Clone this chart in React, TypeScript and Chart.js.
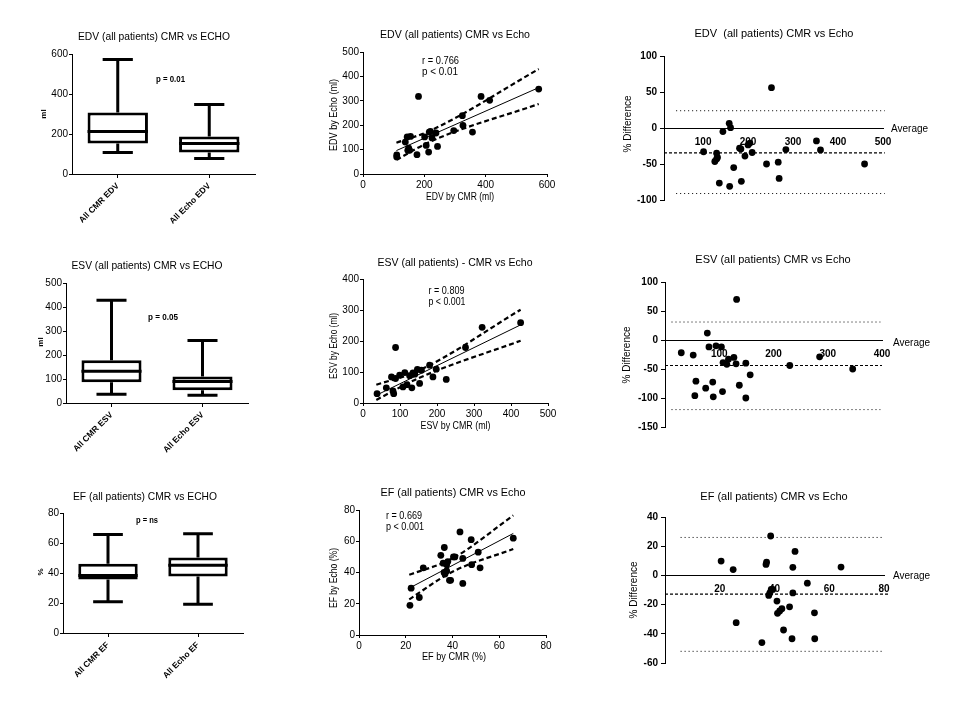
import React, { useEffect, useRef } from 'react';
import { Chart, registerables } from 'chart.js';

Chart.register(...registerables);

const FONT = '"Liberation Sans", Arial, Helvetica, sans-serif';
Chart.defaults.font.family = FONT;

// ---------------- Box plots ----------------
const edvBoxLabels = ['All CMR EDV', 'All Echo EDV'];
const edvMin = [107, 78];
const edvQ1 = [152, 107];
const edvMedian = [213, 153];
const edvQ3 = [308, 188];
const edvMax = [573, 348];
const edvBoxTicks = [0, 200, 400, 600];

const esvBoxLabels = ['All CMR ESV', 'All Echo ESV'];
const esvMin = [36, 32];
const esvQ1 = [86, 53];
const esvMedian = [132, 90];
const esvQ3 = [178, 110];
const esvMax = [428, 260];
const esvBoxTicks = [0, 100, 200, 300, 400, 500];

const efBoxLabels = ['All CMR EF', 'All Echo EF'];
const efMin = [20.9, 19.1];
const efQ1 = [35.6, 37.6];
const efMedian = [38.4, 45.1];
const efQ3 = [46.2, 50.4];
const efMax = [65.6, 66.2];
const efBoxTicks = [0, 20, 40, 60, 80];

// ---------------- Correlation scatter ----------------
const edvCmr = [110, 110, 138, 144, 155, 146, 152, 149, 176, 181, 201, 206, 214, 216, 220, 225, 238, 243, 296, 324, 326, 357, 385, 413, 573];
const edvEcho = [78, 70, 131, 152, 154, 97, 97, 106, 79, 318, 152, 117, 90, 172, 175, 148, 168, 113, 178, 239, 199, 172, 318, 302, 348];
const edvRegX = [109, 573];
const edvRegY = [96, 354];
const edvUpperX = [109, 220, 573];
const edvUpperY = [128, 178, 430];
const edvLowerX = [109, 220, 573];
const edvLowerY = [58, 133, 287];
const edvScatterXTicks = [0, 200, 400, 600];
const edvScatterYTicks = [0, 100, 200, 300, 400, 500];

const esvCmr = [38, 63, 77, 81, 83, 88, 88, 99, 108, 113, 119, 126, 132, 135, 140, 147, 153, 158, 180, 189, 198, 225, 277, 322, 426];
const esvEcho = [30, 49, 84, 39, 30, 79, 179, 90, 52, 98, 59, 88, 49, 97, 93, 108, 63, 106, 122, 84, 109, 76, 179, 244, 259];
const esvRegX = [36, 426];
const esvRegY = [25, 252];
const esvUpperX = [36, 150, 426];
const esvUpperY = [59, 104, 301];
const esvLowerX = [36, 150, 426];
const esvLowerY = [10, 80, 201];
const esvScatterXTicks = [0, 100, 200, 300, 400, 500];
const esvScatterYTicks = [0, 100, 200, 300, 400];

const efCmr = [21.8, 22.3, 25.8, 27.5, 35, 36, 36.5, 36.4, 36.8, 37.5, 38, 38.7, 39.2, 37.5, 40.4, 41, 43.2, 44.4, 44.4, 48, 48.2, 51, 51.8, 66];
const efEcho = [19, 30, 24, 43, 51, 46, 56, 40, 39, 41, 47, 35, 35, 45, 50, 50, 66, 49, 33, 61, 45, 53, 43, 62];
const efRegX = [21.5, 66];
const efRegY = [30, 65];
const efUpperX = [21.5, 40, 66];
const efUpperY = [38.5, 49, 76.5];
const efLowerX = [21.5, 40, 66];
const efLowerY = [22.8, 40.5, 55];
const efScatterTicks = [0, 20, 40, 60, 80];

// ---------------- Bland-Altman ----------------
const edvAvg = [101, 130, 130, 132, 126, 136, 144, 158, 161, 159, 168, 181, 184, 185, 193, 200, 204, 209, 241, 252, 267, 269, 284, 352, 361, 459];
const edvDiff = [-33, -35, -43, -41, -46.5, -76.5, -5, 6.5, 0.5, -81, -55, -28, -29, -74, -39, -23.5, -21, -34, -50, 56, -47.5, -70, -30, -18, -30.5, -50];
const edvLoa = [24, -91];
const edvLoaX = [40, 504];
const edvBias = -34.6;
const edvBiasX = [13, 504];
const edvBaXTicks = [100, 200, 300, 400, 500];
const edvBaYTicks = [-100, -50, 0, 50, 100];

const esvAvg = [30, 52, 57, 55, 75, 78, 81, 88, 89, 94, 104, 106, 107, 114, 117, 127, 131, 132, 137, 149, 149, 157, 230, 285, 346];
const esvDiff = [-22, -26, -71, -96, -83, 12, -12, -72.5, -98, -10, -12, -89, -39, -42, -33, -30, -41, 70, -78, -40, -100, -60, -44, -29, -50];
const esvLoa = [31, -120];
const esvLoaX = [12, 397];
const esvBias = -44;
const esvBiasX = [0, 400];
const esvBaXTicks = [100, 200, 300, 400];
const esvBaYTicks = [-150, -100, -50, 0, 50, 100];

const efAvg = [20.5, 24.9, 26, 35.4, 36.9, 37.1, 37.9, 38.3, 38.6, 38.8, 39.4, 40.9, 41.1, 41.9, 42.7, 43.3, 45.5, 46.4, 46.7, 46.7, 47.5, 52, 54.6, 54.7, 64.3];
const efDiff = [9.8, 4, -32.4, -46, 7.5, 9, -13.7, -12, 27, -9.6, -9.6, -17.6, -26, -24.4, -22.8, -37.4, -21.5, -43.4, 5.5, -12, 16.4, -5.3, -25.6, -43.4, 5.7];
const efLoa = [26, -52];
const efLoaX = [5.7, 80];
const efBias = -12.8;
const efBiasX = [0, 81.5];
const efBaXTicks = [20, 40, 60, 80];
const efBaYTicks = [-60, -40, -20, 0, 20, 40];

// ---------------- helpers ----------------
const Y_W = 50; // fixed width reserved for every left axis
const X_H = 55; // fixed height reserved for every bottom axis

type Area = { l: number; t: number; r: number; b: number };
type TextItem = { text: string; x: number; y: number; size: number; bold?: boolean; align?: CanvasTextAlign; rotate?: boolean; width?: number };

function textPlugin(items: TextItem[]) {
  return {
    id: 'pageText',
    afterDraw(chart: any) {
      const ctx = chart.ctx as CanvasRenderingContext2D;
      for (const t of items) {
        ctx.save();
        ctx.fillStyle = '#000';
        ctx.textBaseline = 'middle';
        ctx.font = `${t.bold ? 'bold ' : ''}${t.size}px ${FONT}`;
        ctx.textAlign = t.align || 'center';
        ctx.translate(t.x, t.y);
        if (t.rotate) ctx.rotate(-Math.PI / 2);
        if (t.width) ctx.fillText(t.text, 0, 0, t.width);
        else ctx.fillText(t.text, 0, 0);
        ctx.restore();
      }
    },
  };
}

function boxPlugin(mins: number[], meds: number[], q1s: number[], q3s: number[], maxs: number[]) {
  return {
    id: 'boxWhiskers',
    afterDatasetsDraw(chart: any) {
      const meta = chart.getDatasetMeta(0);
      const ys = chart.scales.y;
      const ctx = chart.ctx as CanvasRenderingContext2D;
      ctx.save();
      ctx.strokeStyle = '#000';
      ctx.lineWidth = 3;
      meta.data.forEach((bar: any, i: number) => {
        const x = bar.x;
        const w = bar.width;
        const cap = w * 0.5;
        const pMin = ys.getPixelForValue(mins[i]);
        const pMax = ys.getPixelForValue(maxs[i]);
        const pQ1 = ys.getPixelForValue(q1s[i]);
        const pQ3 = ys.getPixelForValue(q3s[i]);
        const pMed = ys.getPixelForValue(meds[i]);
        ctx.beginPath();
        ctx.moveTo(x, pQ3);
        ctx.lineTo(x, pMax);
        ctx.moveTo(x - cap / 2, pMax);
        ctx.lineTo(x + cap / 2, pMax);
        ctx.moveTo(x, pQ1);
        ctx.lineTo(x, pMin);
        ctx.moveTo(x - cap / 2, pMin);
        ctx.lineTo(x + cap / 2, pMin);
        ctx.moveTo(x - w / 2, pMed);
        ctx.lineTo(x + w / 2, pMed);
        ctx.stroke();
      });
      ctx.restore();
    },
  };
}

function baseOptions(a: Area, bottomAxis: boolean) {
  return {
    responsive: false,
    maintainAspectRatio: false,
    animation: false as const,
    events: [] as any[],
    layout: {
      autoPadding: false,
      padding: { left: a.l - Y_W, top: a.t, right: 960 - a.r, bottom: 720 - a.b - (bottomAxis ? X_H : 0) },
    },
    plugins: { legend: { display: false }, tooltip: { enabled: false }, title: { display: false } },
  };
}

function numAxis(min: number, max: number, ticks: number[], o: { vertical: boolean; bold?: boolean; tickLength?: number; padding?: number; drawTicks?: boolean; position?: any }) {
  return {
    type: 'linear',
    min,
    max,
    position: o.position ?? (o.vertical ? 'left' : 'bottom'),
    afterBuildTicks: (s: any) => {
      s.ticks = ticks.map((v) => ({ value: v }));
    },
    afterFit: (s: any) => {
      if (o.vertical) s.width = Y_W;
      else s.height = X_H;
    },
    grid: { display: true, drawOnChartArea: false, drawTicks: o.drawTicks ?? true, tickLength: o.tickLength ?? 3, color: '#000', lineWidth: 1 },
    border: { display: true, color: '#000', width: 1 },
    ticks: { color: '#000', autoSkip: false, maxRotation: 0, minRotation: 0, padding: o.padding ?? 1, font: { family: FONT, size: 10, weight: o.bold ? 'bold' : 'normal' } },
  };
}

function pts(xs: number[], ys: number[]) {
  return xs.map((x, i) => ({ x, y: ys[i] }));
}

function boxConfig(a: Area, labels: string[], mins: number[], q1s: number[], meds: number[], q3s: number[], maxs: number[], yTicks: number[], texts: TextItem[]) {
  return {
    type: 'bar',
    data: {
      labels,
      datasets: [
        {
          data: labels.map((_, i) => [q1s[i], q3s[i]]),
          backgroundColor: '#fff',
          borderColor: '#000',
          borderWidth: 3,
          borderSkipped: false,
          categoryPercentage: 1,
          barPercentage: 0.66,
        },
      ],
    },
    options: {
      ...baseOptions(a, true),
      scales: {
        x: {
          type: 'category',
          offset: true,
          afterFit: (s: any) => {
            s.height = X_H;
          },
          grid: { display: true, offset: false, drawOnChartArea: false, drawTicks: true, tickLength: 4, color: '#000', lineWidth: 1 },
          border: { display: true, color: '#000', width: 1 },
          ticks: { color: '#000', autoSkip: false, minRotation: 45, maxRotation: 45, padding: 3, font: { family: FONT, size: 8.5, weight: 'bold' } },
        },
        y: numAxis(yTicks[0], yTicks[yTicks.length - 1], yTicks, { vertical: true, tickLength: 3, padding: 1 }),
      },
    },
    plugins: [boxPlugin(mins, meds, q1s, q3s, maxs), textPlugin(texts)],
  };
}

function lineSet(data: { x: number; y: number }[], width: number, dash: number[]) {
  return {
    data,
    showLine: true,
    borderColor: '#000',
    backgroundColor: '#000',
    borderWidth: width,
    borderDash: dash,
    pointRadius: 0,
    clip: false,
    cubicInterpolationMode: 'monotone',
  };
}

function pointSet(data: { x: number; y: number }[]) {
  return {
    data,
    showLine: false,
    pointRadius: 3.4,
    pointBackgroundColor: '#000',
    pointBorderColor: '#000',
    pointBorderWidth: 0,
    clip: false,
  };
}

function scatterConfig(a: Area, xs: number[], ys: number[], regX: number[], regY: number[], upX: number[], upY: number[], loX: number[], loY: number[], xTicks: number[], yTicks: number[], texts: TextItem[]) {
  return {
    type: 'scatter',
    data: {
      datasets: [
        pointSet(pts(xs, ys)),
        lineSet(pts(regX, regY), 1, []),
        lineSet(pts(upX, upY), 2.2, [5, 3]),
        lineSet(pts(loX, loY), 2.2, [5, 3]),
      ],
    },
    options: {
      ...baseOptions(a, true),
      scales: {
        x: numAxis(xTicks[0], xTicks[xTicks.length - 1], xTicks, { vertical: false, tickLength: 3, padding: 2 }),
        y: numAxis(yTicks[0], yTicks[yTicks.length - 1], yTicks, { vertical: true, tickLength: 3, padding: 1 }),
      },
    },
    plugins: [textPlugin(texts)],
  };
}

function baConfig(a: Area, xs: number[], ys: number[], loa: number[], loaX: number[], bias: number, biasX: number[], xMin: number, xTicks: number[], yTicks: number[], texts: TextItem[]) {
  return {
    type: 'scatter',
    data: {
      datasets: [
        pointSet(pts(xs, ys)),
        lineSet(pts(loaX, [loa[0], loa[0]]), 1, [1, 3]),
        lineSet(pts(loaX, [loa[1], loa[1]]), 1, [1, 3]),
        lineSet(pts(biasX, [bias, bias]), 1.2, [3, 2]),
      ],
    },
    options: {
      ...baseOptions(a, false),
      scales: {
        x: numAxis(xMin, xTicks[xTicks.length - 1], xTicks, { vertical: false, bold: true, drawTicks: false, padding: 8, position: { y: 0 } }),
        y: numAxis(yTicks[0], yTicks[yTicks.length - 1], yTicks, { vertical: true, bold: true, tickLength: 4, padding: 3 }),
      },
    },
    plugins: [textPlugin(texts)],
  };
}

function buildConfigs(): any[] {
  return [
    boxConfig({ l: 72, t: 54, r: 255, b: 174 }, edvBoxLabels, edvMin, edvQ1, edvMedian, edvQ3, edvMax, edvBoxTicks, [
      { text: 'EDV (all patients) CMR vs ECHO', x: 154, y: 37, size: 11, width: 152 },
      { text: 'p = 0.01', x: 170.5, y: 80, size: 9, bold: true, width: 29 },
      { text: 'ml', x: 44, y: 114, size: 8, bold: true, rotate: true },
    ]),
    scatterConfig({ l: 363, t: 52, r: 547, b: 174 }, edvCmr, edvEcho, edvRegX, edvRegY, edvUpperX, edvUpperY, edvLowerX, edvLowerY, edvScatterXTicks, edvScatterYTicks, [
      { text: 'EDV (all patients) CMR vs Echo', x: 455, y: 35, size: 11, width: 150 },
      { text: 'r = 0.766', x: 422, y: 60.5, size: 11, align: 'left', width: 37 },
      { text: 'p < 0.01', x: 422, y: 71.5, size: 11, align: 'left', width: 36 },
      { text: 'EDV by CMR (ml)', x: 460, y: 197, size: 11, width: 68 },
      { text: 'EDV by Echo (ml)', x: 334, y: 115, size: 11, rotate: true, width: 72 },
    ]),
    baConfig({ l: 664, t: 56, r: 883, b: 200 }, edvAvg, edvDiff, edvLoa, edvLoaX, edvBias, edvBiasX, 13, edvBaXTicks, edvBaYTicks, [
      { text: 'EDV  (all patients) CMR vs Echo', x: 774, y: 34, size: 11, width: 165 },
      { text: '% Difference', x: 628, y: 124, size: 10, rotate: true, width: 62 },
      { text: 'Average', x: 891, y: 129, size: 10, align: 'left', width: 41 },
    ]),
    boxConfig({ l: 66, t: 283, r: 248, b: 403 }, esvBoxLabels, esvMin, esvQ1, esvMedian, esvQ3, esvMax, esvBoxTicks, [
      { text: 'ESV (all patients) CMR vs ECHO', x: 147, y: 266, size: 11, width: 151 },
      { text: 'p = 0.05', x: 163, y: 317.5, size: 9, bold: true, width: 30 },
      { text: 'ml', x: 41, y: 342, size: 8, bold: true, rotate: true },
    ]),
    scatterConfig({ l: 363, t: 279, r: 548, b: 403 }, esvCmr, esvEcho, esvRegX, esvRegY, esvUpperX, esvUpperY, esvLowerX, esvLowerY, esvScatterXTicks, esvScatterYTicks, [
      { text: 'ESV (all patients) - CMR vs Echo', x: 455, y: 262.5, size: 11, width: 155 },
      { text: 'r = 0.809', x: 428.5, y: 291, size: 11, align: 'left', width: 36 },
      { text: 'p < 0.001', x: 428.5, y: 302, size: 11, align: 'left', width: 37 },
      { text: 'ESV by CMR (ml)', x: 455.5, y: 426, size: 11, width: 70 },
      { text: 'ESV by Echo (ml)', x: 334, y: 346, size: 11, rotate: true, width: 66 },
    ]),
    baConfig({ l: 665, t: 282, r: 882, b: 427 }, esvAvg, esvDiff, esvLoa, esvLoaX, esvBias, esvBiasX, 0, esvBaXTicks, esvBaYTicks, [
      { text: 'ESV (all patients) CMR vs Echo', x: 773, y: 260, size: 11, width: 166 },
      { text: '% Difference', x: 627, y: 355, size: 10, rotate: true, width: 62 },
      { text: 'Average', x: 893, y: 343.5, size: 10, align: 'left', width: 41 },
    ]),
    boxConfig({ l: 63, t: 513, r: 243, b: 633 }, efBoxLabels, efMin, efQ1, efMedian, efQ3, efMax, efBoxTicks, [
      { text: 'EF (all patients) CMR vs ECHO', x: 145, y: 496.5, size: 11, width: 144 },
      { text: 'p = ns', x: 147, y: 521, size: 9, bold: true, width: 22 },
      { text: '%', x: 41, y: 572, size: 8, bold: true, rotate: true },
    ]),
    scatterConfig({ l: 359, t: 510, r: 546, b: 635 }, efCmr, efEcho, efRegX, efRegY, efUpperX, efUpperY, efLowerX, efLowerY, efScatterTicks, efScatterTicks, [
      { text: 'EF (all patients) CMR vs Echo', x: 453, y: 493, size: 11, width: 145 },
      { text: 'r = 0.669', x: 386, y: 516, size: 11, align: 'left', width: 36 },
      { text: 'p < 0.001', x: 386, y: 527, size: 11, align: 'left', width: 38 },
      { text: 'EF by CMR (%)', x: 454, y: 657, size: 11, width: 64 },
      { text: 'EF by Echo (%)', x: 334, y: 578, size: 11, rotate: true, width: 60 },
    ]),
    baConfig({ l: 665, t: 517, r: 884, b: 663 }, efAvg, efDiff, efLoa, efLoaX, efBias, efBiasX, 0, efBaXTicks, efBaYTicks, [
      { text: 'EF (all patients) CMR vs Echo', x: 774, y: 497, size: 11, width: 162 },
      { text: '% Difference', x: 634, y: 590, size: 10, rotate: true, width: 62 },
      { text: 'Average', x: 893, y: 576, size: 10, align: 'left', width: 41 },
    ]),
  ];
}

export default function App() {
  const refs = useRef<(HTMLCanvasElement | null)[]>([]);

  useEffect(() => {
    const configs = buildConfigs();
    const charts = configs.map((cfg, i) => new Chart(refs.current[i] as HTMLCanvasElement, cfg));
    return () => {
      charts.forEach((c) => c.destroy());
    };
  }, []);

  return (
    <div style={{ position: 'absolute', left: 0, top: 0, width: 960, height: 720, background: '#fff', overflow: 'hidden' }}>
      {Array.from({ length: 9 }).map((_, i) => (
        <canvas
          key={i}
          ref={(el) => {
            refs.current[i] = el;
          }}
          width={960}
          height={720}
          style={{ position: 'absolute', left: 0, top: 0, width: 960, height: 720 }}
        />
      ))}
    </div>
  );
}
